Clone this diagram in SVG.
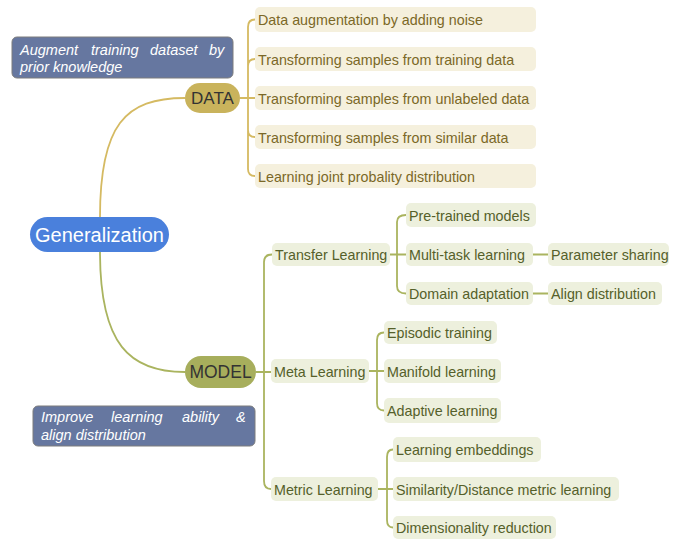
<svg xmlns="http://www.w3.org/2000/svg" width="686" height="540" viewBox="0 0 686 540">
<style>
text{font-family:"Liberation Sans",Arial,sans-serif}
.dbox{fill:#f5f0dd}
.mbox{fill:#edf0dd}
.dt{font-size:14.3px;fill:#7b6827}
.mt{font-size:14.3px;fill:#55602a}
.dl{fill:none;stroke:#d5ba62;stroke-width:1.8}
.ml{fill:none;stroke:#aab45f;stroke-width:1.8}
.call{fill:#6677a0;stroke:#7d7d7d;stroke-width:1}
.ct{font-size:14.5px;font-style:italic;fill:#ffffff}
</style>
<rect width="686" height="540" fill="#ffffff"/>
<g id="connectors">
<path class="dl" d="M100,217 C100,125 125,98 185,98"/>
<path class="ml" d="M100,252 C100,345 130,372 185,372"/>
<path class="dl" d="M240,98 L248,98 M255,19.5 Q248,19.5 248,27 L248,169 Q248,176 255,176 M248,66 Q248,59 255,59 M248,98 L255,98 M248,130 Q248,137 255,137"/>
<path class="ml" d="M256,372 L271,372 M272,254.5 Q264,254.5 264,262 L264,481 Q264,489 271,489"/>
<path class="ml" d="M390,254.5 L406,254.5 M406,215 Q397,215 397,222 L397,286 Q397,293.5 406,293.5"/>
<path class="ml" d="M533,254.5 L548,254.5 M533,293.5 L548,293.5"/>
<path class="ml" d="M369,371 L384,371 M384,332.5 Q377,332.5 377,340 L377,403 Q377,410.5 384,410.5"/>
<path class="ml" d="M378,489 L393,489 M393,449.5 Q387,449.5 387,457 L387,520 Q387,527.5 393,527.5"/>
</g>
<g id="callout-data">
<rect class="call" x="12" y="37" width="221" height="41" rx="5"/>
<text class="ct" y="55"><tspan x="20">Augment</tspan><tspan x="91">training</tspan><tspan x="150">dataset</tspan><tspan x="209">by</tspan></text>
<text class="ct" x="20" y="72">prior knowledge</text>
</g>
<g id="callout-model">
<rect class="call" x="33" y="406" width="222" height="40" rx="5"/>
<text class="ct" y="422"><tspan x="41">Improve</tspan><tspan x="111">learning</tspan><tspan x="182">ability</tspan><tspan x="236">&amp;</tspan></text>
<text class="ct" x="41" y="440">align distribution</text>
</g>
<g id="generalization">
<rect x="30" y="217" width="139" height="35" rx="17.5" fill="#4a80dc"/>
<text x="99.5" y="241.5" text-anchor="middle" font-size="20" fill="#ffffff">Generalization</text>
</g>
<g id="data">
<rect x="185" y="83" width="55" height="30" rx="15" fill="#c9b35c"/>
<text x="212.5" y="104" text-anchor="middle" font-size="17" fill="#333333">DATA</text>
</g>
<g id="model">
<rect x="185" y="356" width="71" height="32" rx="16" fill="#a7ae5c"/>
<text x="220.5" y="378" text-anchor="middle" font-size="17.5" fill="#333333">MODEL</text>
</g>
<g id="d1"><rect class="dbox" x="255" y="7" width="281" height="25" rx="5"/><text class="dt" x="258" y="25">Data augmentation by adding noise</text></g>
<g id="d2"><rect class="dbox" x="255" y="47" width="281" height="24" rx="5"/><text class="dt" x="258" y="64.5">Transforming samples from training data</text></g>
<g id="d3"><rect class="dbox" x="255" y="86" width="281" height="24" rx="5"/><text class="dt" x="258" y="103.5">Transforming samples from unlabeled data</text></g>
<g id="d4"><rect class="dbox" x="255" y="125" width="281" height="24" rx="5"/><text class="dt" x="258" y="142.5">Transforming samples from similar data</text></g>
<g id="d5"><rect class="dbox" x="255" y="164" width="281" height="24" rx="5"/><text class="dt" x="258" y="181.5">Learning joint probality distribution</text></g>
<g id="transfer"><rect class="mbox" x="272" y="243" width="118" height="23" rx="5"/><text class="mt" x="275" y="260">Transfer Learning</text></g>
<g id="meta"><rect class="mbox" x="271" y="359" width="98" height="24" rx="5"/><text class="mt" x="274" y="376.5">Meta Learning</text></g>
<g id="metric"><rect class="mbox" x="271" y="477" width="107" height="24" rx="5"/><text class="mt" x="274" y="494.5">Metric Learning</text></g>
<g id="pretrained"><rect class="mbox" x="406" y="203" width="130" height="24" rx="5"/><text class="mt" x="409" y="220.5">Pre-trained models</text></g>
<g id="multitask"><rect class="mbox" x="406" y="243" width="127" height="23" rx="5"/><text class="mt" x="409" y="260">Multi-task learning</text></g>
<g id="domain"><rect class="mbox" x="406" y="282" width="127" height="23" rx="5"/><text class="mt" x="409" y="299">Domain adaptation</text></g>
<g id="paramsharing"><rect class="mbox" x="548" y="243" width="121" height="23" rx="5"/><text class="mt" x="551" y="260">Parameter sharing</text></g>
<g id="aligndist"><rect class="mbox" x="548" y="282" width="114" height="23" rx="5"/><text class="mt" x="551" y="299">Align distribution</text></g>
<g id="episodic"><rect class="mbox" x="384" y="321" width="113" height="23" rx="5"/><text class="mt" x="387" y="338">Episodic training</text></g>
<g id="manifold"><rect class="mbox" x="384" y="359" width="117" height="24" rx="5"/><text class="mt" x="387" y="376.5">Manifold learning</text></g>
<g id="adaptive"><rect class="mbox" x="384" y="398" width="117" height="25" rx="5"/><text class="mt" x="387" y="416">Adaptive learning</text></g>
<g id="embeddings"><rect class="mbox" x="393" y="437" width="148" height="25" rx="5"/><text class="mt" x="396" y="455">Learning embeddings</text></g>
<g id="similarity"><rect class="mbox" x="393" y="477" width="226" height="24" rx="5"/><text class="mt" x="396" y="494.5">Similarity/Distance metric learning</text></g>
<g id="dimred"><rect class="mbox" x="393" y="516" width="163" height="23" rx="5"/><text class="mt" x="396" y="533">Dimensionality reduction</text></g>
</svg>
